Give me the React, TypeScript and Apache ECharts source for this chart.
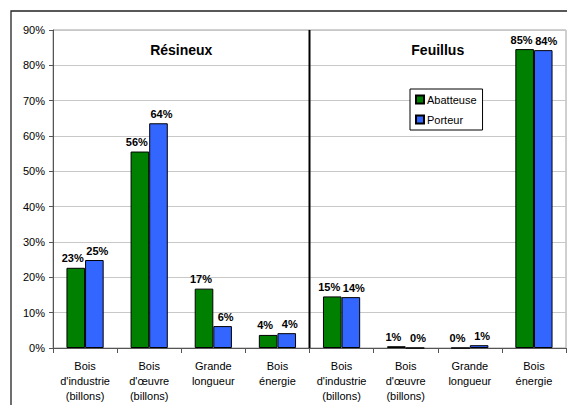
import React, { useEffect, useRef } from "react";
import * as echarts from "echarts";

const categories = [
  "Bois\nd'industrie\n(billons)",
  "Bois\nd'œuvre\n(billons)",
  "Grande\nlongueur",
  "Bois\nénergie",
  "Bois\nd'industrie\n(billons)",
  "Bois\nd'œuvre\n(billons)",
  "Grande\nlongueur",
  "Bois\nénergie",
];
const abatteuse = [22.7, 55.6, 16.8, 3.7, 14.6, 0.5, 0, 84.6];
const porteur = [24.9, 63.6, 6.2, 4.2, 14.4, 0, 0.8, 84.3];
const groupTitles = ["Résineux", "Feuillus"];

const FONT = "Arial, 'Liberation Sans', sans-serif";

export default function App() {
  const ref = useRef<HTMLDivElement>(null);
  useEffect(() => {
    if (!ref.current) return;
    const chart = echarts.init(ref.current, null, { renderer: "svg" });
    const mkLabel = (dx: number) => ({
      show: true,
      position: "top" as const,
      distance: 4,
      offset: [dx, 0],
      fontFamily: FONT,
      fontSize: 11,
      fontWeight: "bold" as const,
      color: "#000",
      formatter: (p: any) => Math.round(p.value) + "%",
    });
    chart.setOption({
      animation: false,
      textStyle: { fontFamily: FONT },
      grid: { left: 53, top: 30, right: 1, bottom: 57, show: true, borderColor: "#a0a0a0", borderWidth: 1, backgroundColor: "transparent" },
      legend: {
        data: ["Abatteuse", "Porteur"],
        orient: "vertical",
        left: 410,
        top: 89,
        itemWidth: 8,
        itemHeight: 8,
        itemGap: 9,
        padding: [5, 6, 5, 5],
        borderColor: "#000",
        borderWidth: 1,
        backgroundColor: "#fff",
        icon: "rect",
        textStyle: { fontFamily: FONT, fontSize: 11, color: "#000", padding: [0, 0, 0, -2] },
      },
      xAxis: {
        type: "category",
        data: categories,
        axisLine: { lineStyle: { color: "#555", width: 1 } },
        axisTick: { show: true, length: 5, lineStyle: { color: "#555" } },
        axisLabel: { fontFamily: FONT, fontSize: 11, color: "#000", lineHeight: 15, margin: 10, interval: 0 },
      },
      yAxis: {
        type: "value",
        min: 0,
        max: 90,
        interval: 10,
        axisLine: { show: true, lineStyle: { color: "#555", width: 1 } },
        axisTick: { show: true, length: 4, lineStyle: { color: "#555" } },
        axisLabel: { fontFamily: FONT, fontSize: 11, color: "#000", formatter: "{value}%", margin: 8 },
        splitLine: { lineStyle: { color: "#c8c8c8", width: 1 } },
      },
      series: [
        {
          name: "Abatteuse",
          type: "bar",
          data: abatteuse,
          barGap: "0%",
          barCategoryGap: "42%",
          itemStyle: { color: "#008000", borderColor: "#000", borderWidth: 1 },
          label: mkLabel(-3),
        },
        {
          name: "Porteur",
          type: "bar",
          data: porteur,
          itemStyle: { color: "#3366ff", borderColor: "#000", borderWidth: 1 },
          label: mkLabel(3),
        },
      ],
    });
    const x3 = chart.convertToPixel({ xAxisIndex: 0 }, 3) as number;
    const x4 = chart.convertToPixel({ xAxisIndex: 0 }, 4) as number;
    const x1 = chart.convertToPixel({ xAxisIndex: 0 }, 1) as number;
    const x2 = chart.convertToPixel({ xAxisIndex: 0 }, 2) as number;
    const x5 = chart.convertToPixel({ xAxisIndex: 0 }, 5) as number;
    const x6 = chart.convertToPixel({ xAxisIndex: 0 }, 6) as number;
    const yTop = chart.convertToPixel({ yAxisIndex: 0 }, 90) as number;
    const yBot = chart.convertToPixel({ yAxisIndex: 0 }, 0) as number;
    const xd = (x3 + x4) / 2;
    chart.setOption({
      graphic: [
        {
          type: "rect",
          shape: { x: 11, y: 11, width: 620, height: 460 },
          style: { fill: "none", stroke: "#222", lineWidth: 1.3 },
          silent: true,
          z: 100,
        },
        {
          type: "line",
          shape: { x1: xd, y1: yTop, x2: xd, y2: yBot },
          style: { stroke: "#000", lineWidth: 2 },
          z: 100,
        },
        {
          type: "text",
          x: (x1 + x2) / 2,
          y: 50,
          style: { text: groupTitles[0], font: "bold 14px " + FONT, fill: "#000", textAlign: "center", textVerticalAlign: "middle" },
        },
        {
          type: "text",
          x: (x5 + x6) / 2,
          y: 50,
          style: { text: groupTitles[1], font: "bold 14px " + FONT, fill: "#000", textAlign: "center", textVerticalAlign: "middle" },
        },
      ],
    });
    return () => chart.dispose();
  }, []);
  return <div ref={ref} style={{ position: "fixed", left: 0, top: 0, width: 567, height: 405, background: "#fff" }} />;
}
